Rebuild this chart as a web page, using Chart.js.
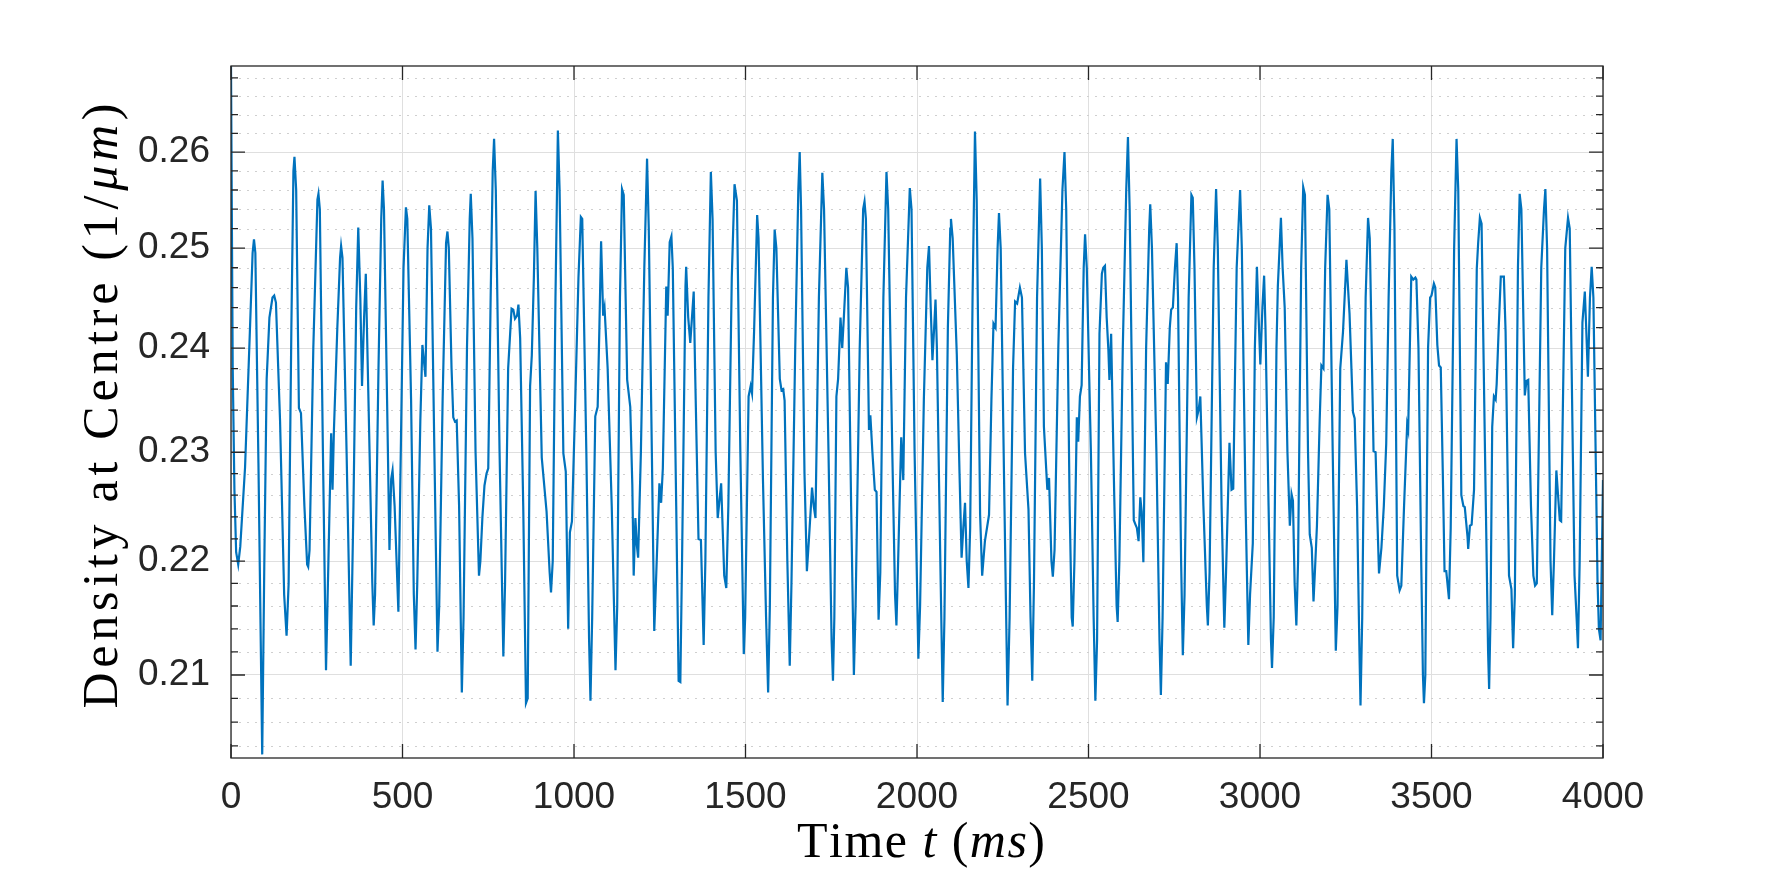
<!DOCTYPE html>
<html>
<head>
<meta charset="utf-8">
<script src="https://cdn.jsdelivr.net/npm/chart.js@4.4.1/dist/chart.umd.min.js"></script>
<style>
html,body{margin:0;padding:0;background:#ffffff;}
canvas{display:block;}
</style>
</head>
<body>
<canvas id="c" width="1773" height="886" style="width:1773px;height:886px"></canvas>
<script>
// ---- data (time in ms, density in 1/um) ----
const timeMs = [
0,5,10,15,21,27,41,55,63,67,71,80,91,97,104,112,121,126,131,143,155,162,168,176,182,185,190,
198,204,214,222,225,229,240,252,255,259,268,277,284,292,296,300,310,318,321,325,337,349,357,365,371,377,382,388,393,
404,412,416,420,430,438,442,446,455,462,467,471,477,488,495,503,510,514,
525,533,538,543,552,558,567,573,578,583,593,602,607,617,627,631,635,643,648,653,658,665,673,678,
688,696,699,704,713,723,727,733,739,745,750,757,763,767,772,783,794,799,
808,818,823,828,834,838,843,852,860,865,872,877,883,888,893,906,920,929,933,938,946,953,958,969,976,983,988,994,
1003,1013,1020,1024,1036,1044,1048,1053,1062,1069,1074,1079,1085,1089,1098,1110,1121,1126,1134,1140,1145,
1155,1164,1170,1174,1179,1183,1187,1195,1205,1213,1218,1227,1234,1240,1249,1254,1259,1269,1273,1279,1284,1288,
1298,1305,1310,1315,1325,1327,1333,1339,1349,1353,1363,1370,1378,1383,1392,1399,1404,1413,1419,1429,1438,1444,1450,1460,1468,1475,1485,1495,1499,
1509,1515,1519,1525,1534,1538,1551,1560,1566,1571,1580,1585,1590,1600,1605,1610,1614,1622,1629,1634,
1645,1654,1658,1662,1672,1679,1685,1694,1699,1704,1714,1724,1729,1742,1751,1755,1759,
1765,1770,1777,1782,1787,1794,1799,1808,1816,1821,1833,1843,1847,1851,1860,1864,1870,1877,1882,1888,1893,
1902,1911,1916,1928,1936,1940,1945,1954,1960,1968,1979,1984,1993,2004,2009,
2020,2030,2035,2040,2045,2050,2054,2058,2068,2075,2080,2090,2097,2099,2104,2116,2124,2130,2135,2140,2145,2150,2155,
2162,2169,2174,2184,2190,2198,2210,2217,2223,2229,2235,2239,2244,2255,2264,2270,
2280,2286,2292,2300,2306,2315,2325,2331,2336,2341,2350,2359,2364,2370,2380,2385,2392,2396,2401,
2412,2424,2430,2435,2445,2451,2454,2459,2466,2470,2475,2480,2486,2490,2495,
2507,2515,2520,2525,2532,2539,2543,2548,2553,2558,2561,2566,2575,2582,2585,2590,
2600,2610,2615,2620,2632,2637,2641,2646,2651,2655,2660,2668,2677,2680,2685,2698,2707,2711,2716,
2726,2731,2737,2741,2746,2752,2757,2761,2770,2775,2780,2792,2800,2804,2809,2816,2821,2826,2835,2845,2848,2853,
2865,2872,2877,2888,2896,2901,2911,2917,2922,2932,2942,2947,2958,2966,2971,2979,2985,2991,2995,
3001,3007,3012,3016,3025,3032,3035,3040,3048,3052,3061,3066,3072,3080,3087,3092,3096,3101,3106,3111,
3120,3126,3131,3140,3145,3151,3156,3160,3166,3174,3179,3185,3190,3197,3202,3212,3221,3226,
3234,3242,3252,3261,3271,3276,3283,3290,3293,3298,3308,3315,3320,
3331,3337,3342,3347,3354,3361,3368,3375,3383,3387,3392,3400,3407,3412,3420,3429,3432,3441,3447,3453,3456,3462,3470,3475,3478,3482,
3490,3496,3500,3507,3511,3517,3522,3527,3533,3538,3543,3551,3556,3566,3573,3578,
3587,3593,3597,3605,3607,3612,3617,3624,3632,3636,3641,3646,3656,3665,3668,3672,
3677,3682,3687,3690,3696,3702,3707,3711,3716,3726,3733,3738,3743,3752,3757,3762,
3772,3777,3782,3790,3797,3802,3807,3820,3828,3832,3837,3847,3852,3857,3864,3869,3874,3878,
3890,3898,3903,3912,3917,3923,3927,3932,3940,3947,3951,3956,3962,3967,3972,3984,3988,3993,4000
];
const density = [
0.2693,0.238,0.2265,0.2208,0.2197,0.2213,0.2286,0.2416,0.2495,0.2509,0.2495,0.2290,0.2033,0.2195,0.2370,0.2430,0.2450,0.2452,0.2445,0.2330,0.2170,0.2134,0.2180,0.2420,0.2580,0.2595,0.2560,
0.2342,0.2337,0.2250,0.2197,0.2195,0.2210,0.2400,0.2550,0.2556,0.2540,0.2300,0.2104,0.2200,0.2318,0.2265,0.2320,0.2420,0.2490,0.2502,0.2490,0.2300,0.2108,0.2250,0.2440,0.2521,0.2450,0.2363,0.2430,0.2474,
0.2300,0.2180,0.2143,0.2170,0.2380,0.2530,0.2570,0.2540,0.2350,0.2210,0.2275,0.2283,0.2250,0.2155,0.2300,0.2480,0.2542,0.2530,
0.2350,0.2170,0.2122,0.2180,0.2330,0.2403,0.2372,0.2500,0.2544,0.2520,0.2300,0.2120,0.2160,0.2350,0.2505,0.2517,0.2500,0.2380,0.2333,0.2329,0.2330,0.2250,0.2085,0.2150,
0.2400,0.2530,0.2556,0.2510,0.2300,0.2187,0.2200,0.2240,0.2269,0.2280,0.2285,0.2450,0.2580,0.2614,0.2560,0.2300,0.2116,0.2180,
0.2380,0.2439,0.2438,0.2429,0.2432,0.2443,0.2410,0.2250,0.2076,0.2080,0.2363,0.2393,0.2470,0.2559,0.2500,0.2295,0.2245,0.2190,0.2172,0.2200,0.2450,0.2623,0.2560,0.2299,0.2282,0.2140,0.2226,0.2236,
0.2340,0.2470,0.2532,0.2530,0.2300,0.2130,0.2078,0.2150,0.2334,0.2343,0.2420,0.2507,0.2432,0.2440,0.2381,0.2250,0.2104,0.2160,0.2450,0.2561,0.2555,
0.2369,0.2343,0.2270,0.2187,0.2239,0.2215,0.2203,0.2300,0.2480,0.2593,0.2520,0.2300,0.2138,0.2190,0.2271,0.2253,0.2285,0.2461,0.2432,0.2506,0.2512,0.2480,
0.2250,0.2095,0.2094,0.2200,0.2461,0.2481,0.2430,0.2405,0.2456,0.2380,0.2220,0.2219,0.2126,0.2200,0.2450,0.2579,0.2530,0.2300,0.2239,0.2271,0.2187,0.2176,0.2250,0.2470,0.2566,0.2549,0.2300,0.2118,0.2150,
0.2353,0.2363,0.2356,0.2416,0.2534,0.2510,0.2273,0.2150,0.2085,0.2160,0.2450,0.2519,0.2500,0.2370,0.2359,0.2360,0.2349,0.2200,0.2108,0.2180,
0.2400,0.2560,0.2600,0.2540,0.2280,0.2191,0.2220,0.2267,0.2250,0.2239,0.2450,0.2578,0.2540,0.2300,0.2130,0.2095,0.2150,
0.2353,0.2370,0.2430,0.2400,0.2432,0.2480,0.2460,0.2250,0.2100,0.2160,0.2400,0.2540,0.2548,0.2530,0.2321,0.2335,0.2300,0.2265,0.2263,0.2148,0.2190,
0.2450,0.2579,0.2540,0.2300,0.2170,0.2143,0.2200,0.2314,0.2274,0.2450,0.2562,0.2540,0.2300,0.2114,0.2160,
0.2350,0.2480,0.2502,0.2440,0.2388,0.2420,0.2448,0.2400,0.2200,0.2077,0.2150,0.2420,0.2520,0.2530,0.2510,0.2394,0.2280,0.2203,0.2230,0.2253,0.2200,0.2176,0.2230,
0.2450,0.2622,0.2550,0.2242,0.2187,0.2218,0.2242,0.2350,0.2424,0.2420,0.2500,0.2536,0.2500,0.2250,0.2074,0.2150,
0.2380,0.2446,0.2444,0.2460,0.2450,0.2299,0.2247,0.2150,0.2095,0.2180,0.2450,0.2572,0.2500,0.2324,0.2265,0.2276,0.2200,0.2186,0.2210,
0.2400,0.2560,0.2600,0.2540,0.2250,0.2150,0.2142,0.2200,0.2333,0.2310,0.2353,0.2364,0.2480,0.2514,0.2480,
0.2300,0.2150,0.2078,0.2130,0.2414,0.2474,0.2480,0.2482,0.2430,0.2398,0.2369,0.2414,0.2260,0.2160,0.2146,0.2200,
0.2400,0.2560,0.2616,0.2540,0.2237,0.2233,0.2230,0.2218,0.2258,0.2245,0.2199,0.2400,0.2520,0.2545,0.2500,0.2300,0.2130,0.2083,0.2150,
0.2386,0.2365,0.2420,0.2438,0.2440,0.2480,0.2505,0.2450,0.2200,0.2117,0.2170,0.2450,0.2555,0.2552,0.2480,0.2333,0.2340,0.2353,0.2250,0.2160,0.2143,0.2190,
0.2480,0.2561,0.2500,0.2250,0.2141,0.2190,0.2309,0.2265,0.2266,0.2480,0.2560,0.2500,0.2250,0.2126,0.2170,0.2216,0.2400,0.2481,0.2440,
0.2384,0.2440,0.2472,0.2420,0.2250,0.2130,0.2106,0.2150,0.2400,0.2461,0.2531,0.2480,0.2440,0.2300,0.2232,0.2261,0.2255,0.2180,0.2143,0.2200,
0.2480,0.2563,0.2555,0.2300,0.2224,0.2212,0.2164,0.2190,0.2232,0.2330,0.2383,0.2380,0.2480,0.2555,0.2540,0.2300,0.2121,0.2160,
0.2380,0.2416,0.2488,0.2434,0.2338,0.2332,0.2250,0.2120,0.2074,0.2150,0.2450,0.2531,0.2510,
0.2301,0.2300,0.2240,0.2189,0.2212,0.2250,0.2308,0.2450,0.2580,0.2614,0.2520,0.2187,0.2174,0.2178,0.2250,0.2326,0.2321,0.2471,0.2468,0.2470,0.2468,0.2400,0.2200,0.2100,0.2076,0.2100,
0.2400,0.2450,0.2452,0.2464,0.2460,0.2403,0.2383,0.2381,0.2280,0.2191,0.2191,0.2166,0.2230,0.2500,0.2614,0.2560,
0.2260,0.2250,0.2249,0.2222,0.2211,0.2232,0.2233,0.2265,0.2479,0.2505,0.2531,0.2525,0.2300,0.2120,0.2088,0.2150,
0.2324,0.2353,0.2350,0.2365,0.2420,0.2471,0.2471,0.2471,0.2416,0.2187,0.2175,0.2123,0.2170,0.2480,0.2556,0.2540,
0.2354,0.2368,0.2369,0.2250,0.2187,0.2178,0.2180,0.2480,0.2540,0.2561,0.2500,0.2200,0.2152,0.2200,0.2283,0.2260,0.2237,0.2236,
0.2500,0.2531,0.2520,0.2300,0.2187,0.2150,0.2123,0.2200,0.2425,0.2456,0.2420,0.2372,0.2450,0.2481,0.2450,0.2183,0.2140,0.2130,0.2274
];
const xTickValues = [0, 500, 1000, 1500, 2000, 2500, 3000, 3500, 4000];
const yTickValues = [0.21, 0.22, 0.23, 0.24, 0.25, 0.26];
const yMinorStep = 0.002;
const xLimits = [0, 4000];
const yLimits = [0.2033, 0.2693];
const xTitleParts = [["Time ", false], ["t", true], [" (", false], ["ms", true], [")", false]];
const yTitleParts = [["Density at Centre (1/", false], ["\u03bcm", true], [")", false]];

// ---- styling ----
const AXIS_COLOR = '#262626';
const LINE_COLOR = '#0072BD';
const TICK_FONT = {family: "'Liberation Sans', Arial, sans-serif", size: 37};
const TITLE_FONT_FAMILY = "'Liberation Serif', 'Times New Roman', serif";
const TITLE_SIZE = 50;

function drawParts(ctx, parts, cx, cy, targetWidth) {
  const chars = [];
  parts.forEach(([txt, ital]) => {
    ctx.font = (ital ? 'italic ' : '') + TITLE_SIZE + 'px ' + TITLE_FONT_FAMILY;
    for (const ch of txt) chars.push({ch, ital, w: ctx.measureText(ch).width});
  });
  const natural = chars.reduce((a, c) => a + c.w, 0);
  const gap = Math.max(0, (targetWidth - natural) / (chars.length - 1));
  const total = natural + gap * (chars.length - 1);
  let x = cx - total / 2;
  ctx.textBaseline = 'alphabetic';
  ctx.textAlign = 'left';
  ctx.fillStyle = '#000000';
  chars.forEach(c => {
    ctx.font = (c.ital ? 'italic ' : '') + TITLE_SIZE + 'px ' + TITLE_FONT_FAMILY;
    ctx.fillText(c.ch, x, cy);
    x += c.w + gap;
  });
}

const matlabAxes = {
  id: 'matlabAxes',
  beforeDraw(chart) {
    const ctx = chart.ctx;
    ctx.save();
    ctx.fillStyle = '#ffffff';
    ctx.fillRect(0, 0, chart.width, chart.height);
    ctx.restore();
  },
  beforeDatasetsDraw(chart) {
    const {ctx, chartArea: a, scales: {y}} = chart;
    ctx.save();
    ctx.strokeStyle = '#cfcfcf';
    ctx.lineWidth = 1;
    ctx.setLineDash([2, 6]);
    for (let k = Math.ceil(yLimits[0] / yMinorStep); k * yMinorStep <= yLimits[1]; k++) {
      const v = k * yMinorStep;
      if (yTickValues.some(m => Math.abs(m - v) < 1e-9)) continue;
      const py = Math.round(y.getPixelForValue(v)) + 0.5;
      ctx.beginPath();
      ctx.moveTo(a.left, py);
      ctx.lineTo(a.right, py);
      ctx.stroke();
    }
    ctx.restore();
  },
  afterDatasetsDraw(chart) {
    const {ctx, chartArea: a, scales: {x, y}} = chart;
    ctx.save();
    ctx.strokeStyle = AXIS_COLOR;
    ctx.lineWidth = 1.3;
    ctx.setLineDash([]);
    ctx.beginPath();
    const major = 14, minor = 7;
    xTickValues.forEach(v => {
      const px = x.getPixelForValue(v);
      ctx.moveTo(px, a.bottom); ctx.lineTo(px, a.bottom - major);
      ctx.moveTo(px, a.top); ctx.lineTo(px, a.top + major);
    });
    for (let k = Math.ceil(yLimits[0] / yMinorStep); k * yMinorStep <= yLimits[1]; k++) {
      const v = k * yMinorStep;
      const isMajor = yTickValues.some(m => Math.abs(m - v) < 1e-9);
      const len = isMajor ? major : minor;
      const py = y.getPixelForValue(v);
      ctx.moveTo(a.left, py); ctx.lineTo(a.left + len, py);
      ctx.moveTo(a.right, py); ctx.lineTo(a.right - len, py);
    }
    ctx.stroke();
    ctx.strokeRect(a.left, a.top, a.right - a.left, a.bottom - a.top);
    ctx.restore();
  },
  afterDraw(chart) {
    const {ctx, chartArea: a} = chart;
    ctx.save();
    drawParts(ctx, xTitleParts, (a.left + a.right) / 2 + 4, 857, 248);
    ctx.translate(117, (a.top + a.bottom) / 2 - 6);
    ctx.rotate(-Math.PI / 2);
    drawParts(ctx, yTitleParts, 0, 0, 605);
    ctx.restore();
  }
};

new Chart(document.getElementById('c'), {
  type: 'line',
  data: {
    datasets: [{
      data: timeMs.map((t, i) => ({x: t, y: density[i]})),
      borderColor: LINE_COLOR,
      borderWidth: 2.2,
      pointRadius: 0,
      fill: false,
      tension: 0
    }]
  },
  options: {
    responsive: false,
    animation: false,
    devicePixelRatio: 1,
    parsing: false,
    layout: {padding: {left: 0, right: 170, top: 66, bottom: 0}},
    plugins: {legend: {display: false}, tooltip: {enabled: false}},
    scales: {
      x: {
        type: 'linear',
        min: xLimits[0],
        max: xLimits[1],
        afterBuildTicks: s => { s.ticks = xTickValues.map(v => ({value: v})); },
        afterFit: s => { s.height = 128; },
        grid: {color: '#dfdfdf', lineWidth: 1, drawTicks: false},
        border: {display: false},
        ticks: {padding: 18, color: AXIS_COLOR, font: TICK_FONT, maxRotation: 0, autoSkip: false,
                callback: v => String(v)}
      },
      y: {
        type: 'logarithmic',
        min: yLimits[0],
        max: yLimits[1],
        afterBuildTicks: s => { s.ticks = yTickValues.map(v => ({value: v})); },
        afterFit: s => { s.width = 231; },
        grid: {color: '#dfdfdf', lineWidth: 1, drawTicks: false},
        border: {display: false},
        ticks: {padding: 21, color: AXIS_COLOR, font: TICK_FONT, autoSkip: false,
                callback: v => Number(v).toFixed(2)}
      }
    }
  },
  plugins: [matlabAxes]
});
</script>
</body>
</html>
